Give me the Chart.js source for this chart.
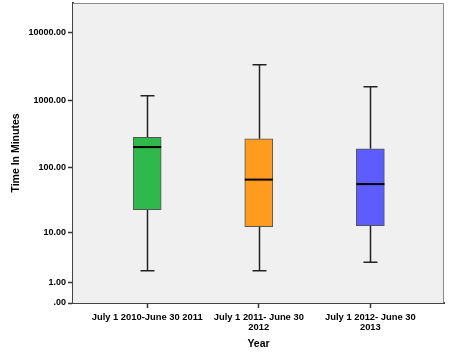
<!DOCTYPE html>
<html>
<head>
<meta charset="utf-8">
<script src="https://cdn.jsdelivr.net/npm/chart.js@4.4.0/dist/chart.umd.min.js"></script>
<style>
    html, body { margin: 0; padding: 0; background: #fff; }
    #wrap { width: 450px; height: 354px; }
</style>
</head>
<body>
<div id="wrap"><canvas id="boxChart" width="450" height="354"></canvas></div>
<script>
// Data
const categories = [
    ['July 1 2010-June 30 2011'],
    ['July 1 2011- June 30', '2012'],
    ['July 1 2012- June 30', '2013']
];
const whiskerLow = [2, 2, 3];
const q1 = [23, 12.5, 13];
const median = [202, 66, 56.5];
const q3 = [281, 268, 191];
const whiskerHigh = [1170, 3350, 1580];
const boxColors = ['#2fb84b', '#ff9c1f', '#5c5cff'];
const yTickValues = [0, 1, 10, 100, 1000, 10000];
const yTickLabels = ['.00', '1.00', '10.00', '100.00', '1000.00', '10000.00'];

// SPSS-style log scale: log10(x + 1)
function tf(v) {
    return Math.log10(v + 1);
}

const fontFamily = '"Liberation Sans", Arial, sans-serif';

// Background, frame, whiskers and medians
const boxPlotPlugin = {
    id: 'boxPlot',
    beforeDatasetsDraw(chart) {
        const ctx = chart.ctx;
        const a = chart.chartArea;
        ctx.save();
        ctx.fillStyle = '#f0f0f0';
        ctx.fillRect(a.left, a.top, a.right - a.left, a.bottom - a.top);
        ctx.strokeStyle = '#8a8a8a';
        ctx.lineWidth = 1;
        ctx.beginPath();
        ctx.moveTo(a.left, a.top + 0.5);
        ctx.lineTo(a.right - 0.5, a.top + 0.5);
        ctx.lineTo(a.right - 0.5, a.bottom);
        ctx.stroke();

        // whiskers
        const xs = chart.scales.x;
        const ys = chart.scales.y;
        ctx.strokeStyle = '#222';
        ctx.lineWidth = 1.5;
        categories.forEach((c, i) => {
            const x = Math.round(xs.getPixelForValue(i)) + 0.5;
            const yLo = ys.getPixelForValue(tf(whiskerLow[i]));
            const yHi = ys.getPixelForValue(tf(whiskerHigh[i]));
            const yQ1 = ys.getPixelForValue(tf(q1[i]));
            const yQ3 = ys.getPixelForValue(tf(q3[i]));
            ctx.beginPath();
            ctx.moveTo(x, yLo);
            ctx.lineTo(x, yQ1);
            ctx.moveTo(x, yQ3);
            ctx.lineTo(x, yHi);
            ctx.moveTo(x - 7, yLo);
            ctx.lineTo(x + 7, yLo);
            ctx.moveTo(x - 7, yHi);
            ctx.lineTo(x + 7, yHi);
            ctx.stroke();
        });
        ctx.restore();
    },
    afterDatasetsDraw(chart) {
        const ctx = chart.ctx;
        const ys = chart.scales.y;
        const meta = chart.getDatasetMeta(0);
        ctx.save();
        ctx.strokeStyle = '#000';
        ctx.lineWidth = 2;
        meta.data.forEach((bar, i) => {
            const half = bar.width / 2;
            const y = ys.getPixelForValue(tf(median[i]));
            ctx.beginPath();
            ctx.moveTo(bar.x - half, y);
            ctx.lineTo(bar.x + half, y);
            ctx.stroke();
        });
        ctx.restore();
    }
};

const ctx = document.getElementById('boxChart').getContext('2d');
const boxChart = new Chart(ctx, {
    type: 'bar',
    data: {
        datasets: [{
            data: categories.map((c, i) => ({ x: i, y: [tf(q1[i]), tf(q3[i])] })),
            backgroundColor: boxColors,
            borderColor: '#555',
            borderWidth: 1,
            borderSkipped: false,
            barThickness: 28
        }]
    },
    options: {
        responsive: false,
        animation: false,
        layout: {
            padding: { top: 3, right: 6, left: 0, bottom: 0 }
        },
        plugins: {
            legend: { display: false },
            tooltip: { enabled: false }
        },
        scales: {
            x: {
                type: 'linear',
                offset: false,
                min: -0.665,
                max: 2.66,
                afterBuildTicks: scale => {
                    scale.ticks = categories.map((c, i) => ({ value: i }));
                },
                afterFit: scale => {
                    scale.height = 51;
                    scale.paddingLeft = 0;
                    scale.paddingRight = 0;
                },
                grid: {
                    offset: false,
                    drawOnChartArea: false,
                    drawTicks: true,
                    tickLength: 5,
                    tickWidth: 1.5,
                    tickColor: '#333'
                },
                border: { color: '#444', width: 2 },
                ticks: {
                    autoSkip: false,
                    maxRotation: 0,
                    padding: 4,
                    color: '#000',
                    font: { family: fontFamily, size: 9.4, weight: 'bold', lineHeight: '10px' },
                    callback: (value) => categories[value]
                },
                title: {
                    display: true,
                    text: 'Year',
                    color: '#000',
                    padding: { top: 0, bottom: 4 },
                    font: { family: fontFamily, size: 10.5, weight: 'bold' }
                }
            },
            y: {
                type: 'linear',
                min: 0,
                max: 4.44,
                afterBuildTicks: scale => {
                    scale.ticks = yTickValues.map(v => ({ value: tf(v) }));
                },
                afterFit: scale => {
                    scale.width = 73;
                    scale.paddingTop = 0;
                    scale.paddingBottom = 0;
                },
                grid: {
                    drawOnChartArea: false,
                    drawTicks: true,
                    tickLength: 5,
                    tickWidth: 1.5,
                    tickColor: '#333'
                },
                border: { color: '#444', width: 2 },
                ticks: {
                    padding: 2,
                    color: '#000',
                    font: { family: fontFamily, size: 9, weight: 'bold' },
                    callback: (value, index) => yTickLabels[index]
                },
                title: {
                    display: true,
                    text: 'Time In Minutes',
                    color: '#000',
                    padding: { top: 10, bottom: 0 },
                    font: { family: fontFamily, size: 10.5, weight: 'bold' }
                }
            }
        }
    },
    plugins: [boxPlotPlugin]
});
</script>
</body>
</html>
